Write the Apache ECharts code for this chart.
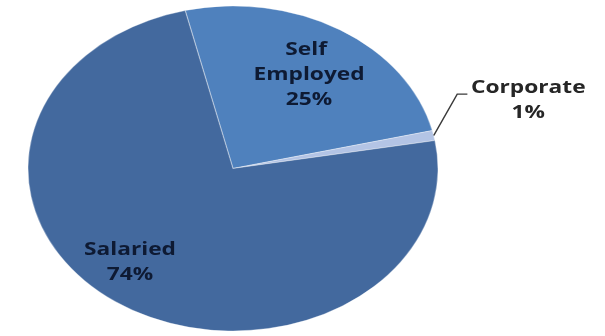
<!DOCTYPE html>
<html>
<head>
<meta charset="utf-8">
<script src="https://cdn.jsdelivr.net/npm/echarts@6/dist/echarts.min.js"></script>
<style>
  html, body { margin: 0; padding: 0; background: #ffffff; }
  #chart { width: 605px; height: 336px; }
</style>
</head>
<body>
<div id="chart"></div>
<script>
// Borrower segments and their share of the portfolio (%)
const categories = ['Self Employed', 'Corporate', 'Salaried'];
const shares = [25, 1, 74];

// Slice fills, in the same order as the categories
const sliceColors = ['#4F81BD', '#B3C4E5', '#43699E'];

// Tilted (elliptical) pie geometry
const pie = { cx: 233, cy: 168.5, rx: 205, ry: 162.5, startAngle: 103.5 };

// Where each label sits: radius as a fraction of the pie radius,
// angle shift (deg) from the slice middle, and an optional leader line
const labelSpots = {
  'Self Employed': { radius: 0.685, shift: -1.3 },
  'Corporate': { radius: 1.5, shift: 4.5, leader: { radius: 1.186, angle: 22.7, run: 8 } },
  'Salaried': { radius: 0.764, shift: -7.8 }
};

const total = shares.reduce((a, b) => a + b, 0);
const starts = [];
let acc = pie.startAngle;
shares.forEach(v => { starts.push(acc); acc -= v / total * 360; });

function polar(deg, r) {
  const a = deg * Math.PI / 180;
  return [r * Math.cos(a), -r * Math.sin(a)];
}

function renderItem(params, api) {
  const i = params.dataIndex;
  const value = api.value(1);
  const name = categories[i];
  const R = pie.ry;
  const from = starts[i];
  const sweep = value / total * 360;
  const to = from - sweep;
  const mid = from - sweep / 2;
  const spot = labelSpots[name];

  const children = [{
    type: 'sector',
    shape: {
      cx: 0, cy: 0, r: R, r0: 0,
      startAngle: -from * Math.PI / 180,
      endAngle: -to * Math.PI / 180,
      clockwise: true
    },
    style: { fill: sliceColors[i], stroke: 'rgba(255,255,255,0.35)', lineWidth: 1 }
  }];

  const outside = !!spot.leader;
  if (outside) {
    const p0 = polar(mid, R);
    const p1 = polar(spot.leader.angle, R * spot.leader.radius);
    const p2 = [p1[0] + spot.leader.run, p1[1]];
    children.push({
      type: 'polyline',
      shape: { points: [p0, p1, p2] },
      style: { stroke: '#3a3a3a', lineWidth: 1.2, fill: null }
    });
  }

  const pos = polar(mid + spot.shift, R * spot.radius);
  children.push({
    type: 'text',
    style: {
      text: name + '\n' + value + '%',
      x: pos[0],
      y: pos[1],
      width: 100,
      overflow: 'break',
      align: 'center',
      verticalAlign: 'middle',
      fontFamily: 'Open Sans',
      fontWeight: 'bold',
      fontSize: 18,
      lineHeight: 25,
      fill: outside ? '#262626' : '#0E1A33'
    }
  });

  return {
    type: 'group',
    x: pie.cx,
    y: pie.cy,
    scaleX: pie.rx / pie.ry,
    children: children
  };
}

const chart = echarts.init(document.getElementById('chart'), null, { renderer: 'canvas' });
chart.setOption({
  animation: false,
  backgroundColor: '#ffffff',
  series: [{
    type: 'custom',
    coordinateSystem: 'none',
    data: shares.map((v, i) => [i, v]),
    renderItem: renderItem
  }]
});
</script>
</body>
</html>
